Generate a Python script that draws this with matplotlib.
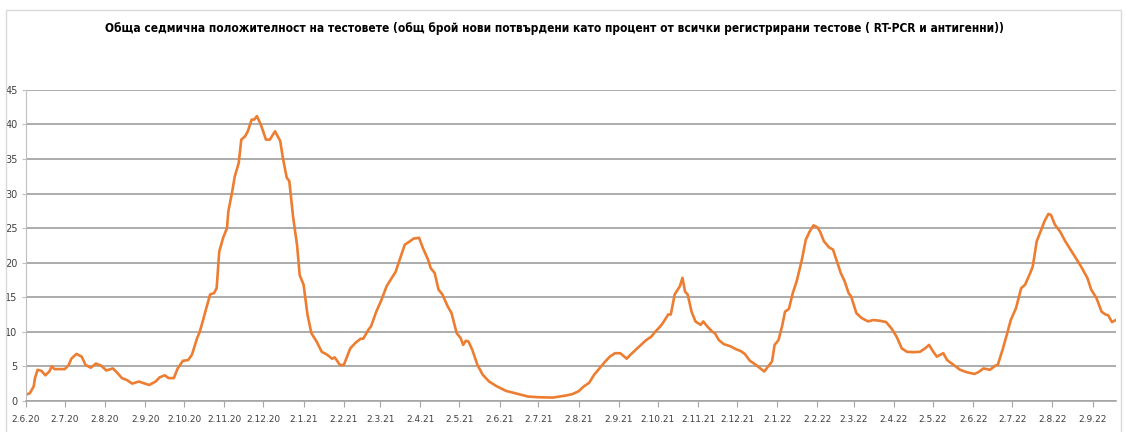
import matplotlib
matplotlib.use("Agg")
import matplotlib.pyplot as plt
import matplotlib.dates as mdates
import pandas as pd
from matplotlib.patches import Rectangle

# weekly positivity (%)
dates = [
    "2020-06-02", "2020-06-05", "2020-06-08", "2020-06-09", "2020-06-11", "2020-06-14", "2020-06-17",
    "2020-06-20", "2020-06-22", "2020-06-24", "2020-07-02", "2020-07-05", "2020-07-07", "2020-07-11",
    "2020-07-15", "2020-07-18", "2020-07-22", "2020-07-26", "2020-07-30", "2020-08-03", "2020-08-08",
    "2020-08-11", "2020-08-15", "2020-08-19", "2020-08-23", "2020-08-28", "2020-09-01", "2020-09-05",
    "2020-09-10", "2020-09-13", "2020-09-17", "2020-09-20", "2020-09-24", "2020-09-27", "2020-10-01",
    "2020-10-05", "2020-10-08", "2020-10-12", "2020-10-14", "2020-10-17", "2020-10-19", "2020-10-22",
    "2020-10-25", "2020-10-27", "2020-10-29", "2020-11-01", "2020-11-04", "2020-11-05", "2020-11-08",
    "2020-11-10", "2020-11-13", "2020-11-15", "2020-11-18", "2020-11-20", "2020-11-23", "2020-11-25",
    "2020-11-27", "2020-11-30", "2020-12-04", "2020-12-07", "2020-12-11", "2020-12-15", "2020-12-17",
    "2020-12-20", "2020-12-22", "2020-12-25", "2020-12-28", "2020-12-30", "2021-01-02", "2021-01-05",
    "2021-01-08", "2021-01-12", "2021-01-16", "2021-01-20", "2021-01-24", "2021-01-26", "2021-01-30",
    "2021-02-02", "2021-02-07", "2021-02-11", "2021-02-15", "2021-02-17", "2021-02-21", "2021-02-23",
    "2021-02-27", "2021-03-03", "2021-03-07", "2021-03-11", "2021-03-14", "2021-03-17", "2021-03-21",
    "2021-03-25", "2021-03-28", "2021-04-01", "2021-04-04", "2021-04-08", "2021-04-10", "2021-04-13",
    "2021-04-16", "2021-04-19", "2021-04-23", "2021-04-26", "2021-04-30", "2021-05-03", "2021-05-05",
    "2021-05-07", "2021-05-09", "2021-05-12", "2021-05-16", "2021-05-20", "2021-05-25", "2021-05-31",
    "2021-06-07", "2021-06-17", "2021-06-24", "2021-07-02", "2021-07-13", "2021-07-23", "2021-07-28",
    "2021-08-02", "2021-08-06", "2021-08-10", "2021-08-14", "2021-08-18", "2021-08-22", "2021-08-26",
    "2021-08-30", "2021-09-03", "2021-09-05", "2021-09-08", "2021-09-11", "2021-09-15", "2021-09-19",
    "2021-09-23", "2021-09-27", "2021-09-30", "2021-10-04", "2021-10-06", "2021-10-10", "2021-10-12",
    "2021-10-15", "2021-10-19", "2021-10-21", "2021-10-23", "2021-10-25", "2021-10-28", "2021-10-31",
    "2021-11-04", "2021-11-06", "2021-11-09", "2021-11-13", "2021-11-15", "2021-11-18", "2021-11-22",
    "2021-11-27", "2021-12-01", "2021-12-05", "2021-12-08", "2021-12-12", "2021-12-16", "2021-12-20",
    "2021-12-23", "2021-12-27", "2021-12-29", "2021-12-31", "2022-01-03", "2022-01-06", "2022-01-08",
    "2022-01-11", "2022-01-14", "2022-01-17", "2022-01-21", "2022-01-24", "2022-01-27", "2022-01-30",
    "2022-02-02", "2022-02-04", "2022-02-07", "2022-02-11", "2022-02-14", "2022-02-17", "2022-02-20",
    "2022-02-23", "2022-02-26", "2022-02-28", "2022-03-04", "2022-03-08", "2022-03-13", "2022-03-17",
    "2022-03-22", "2022-03-27", "2022-03-31", "2022-04-04", "2022-04-08", "2022-04-12", "2022-04-17",
    "2022-04-22", "2022-04-26", "2022-04-29", "2022-05-02", "2022-05-05", "2022-05-10", "2022-05-13",
    "2022-05-18", "2022-05-23", "2022-05-28", "2022-06-03", "2022-06-06", "2022-06-10", "2022-06-15",
    "2022-06-19", "2022-06-21", "2022-06-25", "2022-06-28", "2022-07-01", "2022-07-05", "2022-07-09",
    "2022-07-12", "2022-07-16", "2022-07-18", "2022-07-21", "2022-07-25", "2022-07-27", "2022-07-30",
    "2022-08-01", "2022-08-04", "2022-08-08", "2022-08-12", "2022-08-16", "2022-08-20", "2022-08-24",
    "2022-08-29", "2022-09-01", "2022-09-05", "2022-09-09", "2022-09-12", "2022-09-14", "2022-09-17",
    "2022-09-20",
]
positivity = [
    0.9, 1.1, 2.1, 3.3, 4.5, 4.35, 3.7,
    4.25, 5.0, 4.6, 4.6, 5.2, 6.1, 6.8,
    6.4, 5.2, 4.8, 5.4, 5.1, 4.4, 4.7,
    4.15, 3.3, 3.0, 2.5, 2.8, 2.55, 2.3,
    2.8, 3.4, 3.7, 3.3, 3.3, 4.7, 5.8,
    5.9, 6.7, 9.1, 10.0, 12.0, 13.4, 15.4,
    15.6, 16.3, 21.6, 23.6, 25.0, 27.4, 30.3,
    32.5, 34.4, 37.8, 38.3, 39.0, 40.7, 40.7,
    41.2, 40.0, 37.8, 37.8, 39.0, 37.6, 35.2,
    32.3, 31.8, 26.5, 22.5, 18.2, 16.8, 12.5,
    9.8, 8.6, 7.1, 6.7, 6.1, 6.3, 5.2,
    5.2, 7.6, 8.4, 9.0, 9.0, 10.3, 10.8,
    12.9, 14.6, 16.6, 17.8, 18.7, 20.4, 22.6,
    23.1, 23.5, 23.6, 22.1, 20.4, 19.2, 18.5,
    16.1, 15.4, 13.7, 12.7, 9.8, 9.1, 8.1,
    8.7, 8.6, 7.4, 5.2, 3.8, 2.8, 2.1,
    1.45, 0.97, 0.63, 0.53, 0.48, 0.77, 0.97,
    1.4, 2.1, 2.6, 3.8, 4.7, 5.6, 6.4,
    6.9, 6.9, 6.6, 6.1, 6.7, 7.4, 8.1,
    8.8, 9.3, 10.0, 10.8, 11.3, 12.5, 12.5,
    15.4, 16.6, 17.8, 15.8, 15.4, 12.9, 11.5,
    11.0, 11.5, 10.8, 10.0, 9.8, 8.8, 8.2,
    7.9, 7.5, 7.2, 6.8, 5.8, 5.3, 4.7,
    4.25, 5.2, 5.7, 8.1, 8.8, 11.0, 12.9,
    13.3, 15.6, 17.3, 20.4, 23.3, 24.5, 25.4,
    25.1, 24.5, 23.1, 22.2, 21.9, 20.2, 18.5,
    17.3, 15.6, 15.1, 12.7, 12.0, 11.5, 11.7,
    11.6, 11.4, 10.5, 9.3, 7.6, 7.1, 7.05,
    7.1, 7.6, 8.1, 7.2, 6.4, 6.9, 5.9,
    5.2, 4.5, 4.15, 3.9, 4.15, 4.7, 4.5,
    5.1, 5.2, 7.6, 9.6, 11.7, 13.4, 16.3,
    16.8, 18.5, 19.5, 23.1, 25.0, 26.0, 27.05,
    26.9, 25.5, 24.5, 23.1, 21.9, 20.7, 19.5,
    17.8, 16.1, 14.9, 12.9, 12.5, 12.4, 11.4,
    11.7,
]
y_ticks = [0, 5, 10, 15, 20, 25, 30, 35, 40, 45]
title = ("Обща седмична положителност на тестовете (общ брой нови потвърдени като процент "
         "от всички регистрирани тестове ( RT-PCR и антигенни))")

x = pd.to_datetime(dates)
# ticks on the 2nd of every month
tick_dates = pd.date_range("2020-06-01", "2022-09-01", freq="MS") + pd.Timedelta(days=1)

plt.rcParams['font.family'] = ['DejaVu Sans']

fig = plt.figure(figsize=(11.26, 4.32), dpi=100)
ax = fig.add_axes([0.023, 0.072, 0.968, 0.72])

# chart area frame like the spreadsheet chart
fig.patches.append(Rectangle((0.005, -0.01), 0.991, 0.987, transform=fig.transFigure,
                             fill=False, edgecolor="#d9d9d9", linewidth=1))

ax.plot(x, positivity, color="#ED7D31", linewidth=1.9, solid_joinstyle="round")

ax.set_ylim(0, 45)
ax.set_yticks(y_ticks)
ax.set_xlim(pd.Timestamp("2020-06-02"), pd.Timestamp("2022-09-20"))
ax.set_xticks(tick_dates)


def short_date(v, pos):
    d = mdates.num2date(v)
    return f"{d.day}.{d.month}.{d.year % 100:02d}"


ax.xaxis.set_major_formatter(plt.FuncFormatter(short_date))

ax.grid(axis="y", color="#a6a6a6", linewidth=1.3)
ax.set_axisbelow(True)
for side in ["top", "right"]:
    ax.spines[side].set_visible(False)
ax.spines["left"].set_color("#bfbfbf")
ax.spines["bottom"].set_color("#a6a6a6")
ax.spines["bottom"].set_linewidth(1.2)
ax.tick_params(axis="x", length=4, color="#a6a6a6", labelsize=6.5, pad=6, labelcolor="#404040")
ax.tick_params(axis="y", length=3, color="#bfbfbf", labelsize=7, pad=3, labelcolor="#404040")

t = fig.text(0.492, 0.935, title, ha="center", va="center", fontsize=11,
             fontweight="bold", fontstretch="condensed")
# shrink the title until it spans about the same width as in the original
fig.canvas.draw()
w = t.get_window_extent().width
if w > 892:
    t.set_fontsize(11 * 892 / w)

fig.savefig("out.png", dpi=100)
